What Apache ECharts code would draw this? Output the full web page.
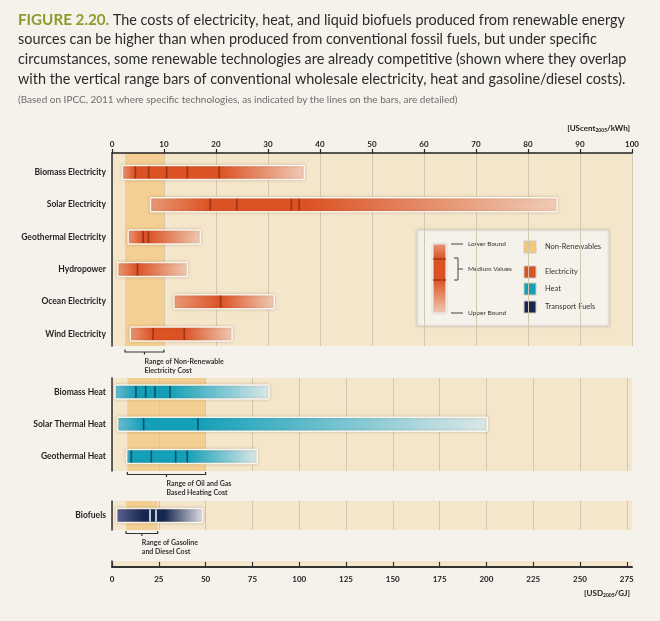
<!DOCTYPE html>
<html><head><meta charset="utf-8">
<script src="https://cdn.jsdelivr.net/npm/echarts@6/dist/echarts.min.js"></script>
<style>html,body{margin:0;padding:0;background:#f4f2ea;}#c{width:660px;height:621px;}</style>
</head><body><div id="c"></div>
<script>
// ---------------- DATA ----------------
// Electricity (UScent2005/kWh)
const elecCategories = ['Biomass Electricity','Solar Electricity','Geothermal Electricity','Hydropower','Ocean Electricity','Wind Electricity'];
const elecLower   = [2.0, 7.4, 3.1, 1.1, 11.9, 3.5];
const elecUpper   = [37.0, 85.6, 17.0, 14.5, 31.2, 23.1];
const elecMedLow  = [4.5, 18.9, 6.0, 4.9, 20.9, 7.9];
const elecMedHigh = [20.6, 37.5, 7.0, 4.9, 20.9, 13.9];
const elecLines   = [[4.5, 7.05, 10.5, 14.5, 20.6], [18.9, 24.0, 34.5, 36.0], [6.0, 7.0], [4.9], [20.9], [7.9, 13.9]];
const elecNonRenewable = [2.5, 10.0];

// Heat (USD2005/GJ)
const heatCategories = ['Biomass Heat','Solar Thermal Heat','Geothermal Heat'];
const heatLower   = [1.6, 3.0, 7.8];
const heatUpper   = [83.9, 200.5, 77.6];
const heatMedLow  = [12.8, 16.9, 10.3];
const heatMedHigh = [31.0, 45.9, 40.2];
const heatLines   = [[12.8, 18.0, 23.0, 31.0], [16.9, 45.9], [10.3, 21.0, 34.0, 40.2]];
const heatNonRenewable = [8.2, 50.0];

// Transport fuels (USD2005/GJ)
const fuelCategories = ['Biofuels'];
const fuelLower   = [2.5];
const fuelUpper   = [48.4];
const fuelMedLow  = [16.7];
const fuelMedHigh = [28.0];
const fuelLines   = [[20.3, 23.5]];
const fuelNonRenewable = [7.5, 24.4];

// Tick labels
const centTicks = [0,10,20,30,40,50,60,70,80,90,100];
const gjTicks = [0,25,50,75,100,125,150,175,200,225,250,275];
const GJ_PER_CENT_KWH = 2.7778; // unit conversion, 1 USc/kWh = 2.7778 USD/GJ

// ---------------- STYLE ----------------
const FONT = 'Lato, "Open Sans", sans-serif';
const TXT = '#231f20';
const PANEL = '#f4e6cb';
const BAND = '#f3cf93';
const GRIDLINE = '#d3c7ad';
const elecPal = {low:'#ea9a78', full:'#dc5224', light:'#f0cdb7'};
const heatPal = {low:'#6dbdd0', full:'#14a0b9', light:'#dde8e8'};
const fuelPal = {low:'#5c6391', full:'#172850', light:'#e3e2e7'};

function makeBarSeries(gi, lower, upper, medLow, medHigh, lines, pal, lineColor) {
  const data = lower.map((v, i) => [i, v, upper[i], medLow[i], medHigh[i]]);
  return {
    type: 'custom', xAxisIndex: gi, yAxisIndex: gi, z: 3, silent: true,
    data, encode: {x: [1, 2, 3, 4], y: 0},
    renderItem(params, api) {
      const i = api.value(0), lo = api.value(1), hi = api.value(2), mL = api.value(3), mH = api.value(4);
      const a = api.coord([lo, i]), b = api.coord([hi, i]);
      const h = 14, y0 = a[1] - h / 2, span = hi - lo;
      const s1 = Math.max(0.001, Math.min(1, (mL - lo) / span));
      const s2 = Math.max(s1, Math.min(0.999, (mH - lo) / span));
      const children = [{
        type: 'rect',
        shape: {x: a[0], y: y0, width: b[0] - a[0], height: h, r: 1},
        style: {
          fill: new echarts.graphic.LinearGradient(0, 0, 1, 0, [
            {offset: 0, color: pal.low}, {offset: s1, color: pal.full},
            {offset: s2, color: pal.full}, {offset: 1, color: pal.light}]),
          stroke: 'rgba(252,248,242,0.95)', lineWidth: 1.5,
          shadowBlur: 3, shadowColor: 'rgba(90,60,20,0.25)'
        }
      }];
      lines[params.dataIndex].forEach(v => {
        const p = api.coord([v, i]);
        children.push({type: 'line', shape: {x1: p[0], y1: y0 + 1, x2: p[0], y2: y0 + h - 1},
          style: {stroke: lineColor, lineWidth: 1.6}});
      });
      return {type: 'group', children};
    }
  };
}

function makeBandSeries(gi, range, label, off) {
  return {
    type: 'custom', xAxisIndex: gi, yAxisIndex: gi, z: -1, clip: false, silent: true,
    data: [range], encode: {x: [0, 1]},
    renderItem(params, api) {
      const cs = params.coordSys;
      const x0 = api.coord([api.value(0), 0])[0], x1 = api.coord([api.value(1), 0])[0];
      const by = cs.y + cs.height + off, mid = (x0 + x1) / 2;
      return {type: 'group', children: [
        {type: 'rect', shape: {x: x0, y: cs.y, width: x1 - x0, height: cs.height}, style: {fill: BAND}},
        {type: 'polyline', shape: {points: [[x0, by - 2.5], [x0, by], [x1, by], [x1, by - 2.5]]},
          style: {stroke: '#333', lineWidth: 1.2, fill: null}},
        {type: 'line', shape: {x1: mid, y1: by, x2: mid, y2: by + 2.5}, style: {stroke: '#333', lineWidth: 1.2}},
        {type: 'text', x: mid, y: by + 5, style: {text: label, fill: '#333', font: 'bold 7px ' + FONT, lineHeight: 9}}
      ]};
    }
  };
}

const catLabel = (cats) => ({
  customValues: cats.map((c, i) => i),
  formatter: v => cats[Math.round(v)] || '',
  fontSize: 8.5, fontWeight: 'bold', color: TXT, fontFamily: FONT, margin: 6
});
const yBase = {type: 'value', inverse: true, axisLine: {show: true, onZero: false, lineStyle: {color: '#333', width: 1.5}},
  axisTick: {show: false}, splitLine: {show: false}};
const hiddenX = {type: 'value', min: 0, max: 100 * GJ_PER_CENT_KWH, interval: 25,
  axisLine: {show: false, onZero: false}, axisTick: {show: false}, axisLabel: {show: false},
  splitLine: {show: true, showMaxLine: false, lineStyle: {color: GRIDLINE, width: 1}}};
const gridBase = {show: true, backgroundColor: PANEL, borderWidth: 0, z: -2, left: 112, width: 520};

const option = {
  backgroundColor: '#f4f2ea',
  animation: false,
  grid: [
    Object.assign({top: 153, height: 193}, gridBase),
    Object.assign({top: 378, height: 93}, gridBase),
    Object.assign({top: 501, height: 29}, gridBase),
    Object.assign({top: 561, height: 6}, gridBase)
  ],
  xAxis: [
    {gridIndex: 0, type: 'value', position: 'top', min: centTicks[0], max: centTicks[centTicks.length - 1], interval: 10,
      axisLine: {onZero: false, lineStyle: {color: '#222', width: 1.5}},
      axisTick: {show: true, inside: false, length: 4, lineStyle: {color: '#222', width: 1.2}},
      axisLabel: {customValues: centTicks, fontSize: 8, fontWeight: 'bold', color: '#222', fontFamily: FONT, margin: 5},
      splitLine: {show: true, lineStyle: {color: GRIDLINE, width: 1}}},
    Object.assign({gridIndex: 1}, hiddenX),
    Object.assign({gridIndex: 2}, hiddenX),
    Object.assign({}, hiddenX, {gridIndex: 3, position: 'bottom',
      axisLine: {show: true, onZero: false, lineStyle: {color: '#333', width: 2}},
      axisTick: {show: true, inside: true, length: 5, customValues: gjTicks, lineStyle: {color: '#333', width: 1.2}},
      axisLabel: {show: true, customValues: gjTicks, fontSize: 8, fontWeight: 'bold', color: '#222', fontFamily: FONT, margin: 8}})
  ],
  yAxis: [
    Object.assign({gridIndex: 0, min: -0.6, max: 5.37, axisLabel: catLabel(elecCategories)}, yBase),
    Object.assign({gridIndex: 1, min: -0.43, max: 2.45, axisLabel: catLabel(heatCategories)}, yBase),
    Object.assign({gridIndex: 2, min: -0.5, max: 0.5, axisLabel: catLabel(fuelCategories)}, yBase),
    Object.assign({gridIndex: 3, min: 0, max: 1, axisLabel: {show: false}}, yBase)
  ],
  series: [
    makeBandSeries(0, elecNonRenewable, 'Range of Non-Renewable\nElectricity Cost', 6),
    makeBandSeries(1, heatNonRenewable, 'Range of Oil and Gas\nBased Heating Cost', 3.5),
    makeBandSeries(2, fuelNonRenewable, 'Range of Gasoline\nand Diesel Cost', 3.5),
    makeBarSeries(0, elecLower, elecUpper, elecMedLow, elecMedHigh, elecLines, elecPal, '#9c3516'),
    makeBarSeries(1, heatLower, heatUpper, heatMedLow, heatMedHigh, heatLines, heatPal, '#0b5463'),
    makeBarSeries(2, fuelLower, fuelUpper, fuelMedLow, fuelMedHigh, fuelLines, fuelPal, '#eef0f2')
  ],
  graphic: []
};

// Title
const titleLines = [
  '{g|FIGURE 2.20.} The costs of electricity, heat, and liquid biofuels produced from renewable energy',
  'sources can be higher than when produced from conventional fossil fuels, but under specific',
  'circumstances, some renewable technologies are already competitive (shown where they overlap',
  'with the vertical range bars of conventional wholesale electricity, heat and gasoline/diesel costs).'
];
titleLines.forEach((t, k) => {
  option.graphic.push({type: 'text', x: 18, y: 20 + k * 19.7, silent: true,
    style: {text: t, fill: '#2b2b2b', font: '14.4px ' + FONT, verticalAlign: 'middle',
      rich: {g: {fill: '#8c9b2c', fontWeight: 'bold', fontSize: 15.2, fontFamily: FONT}}}});
});
option.graphic.push({type: 'text', x: 18, y: 100, silent: true,
  style: {text: '(Based on IPCC, 2011 where specific technologies, as indicated by the lines on the bars, are detailed)',
    fill: '#6d6d6d', font: '10px ' + FONT, verticalAlign: 'middle'}});

// Units
const unitRich = {a: {fontSize: 8, fontWeight: 'bold', fill: '#222', fontFamily: FONT},
  s: {fontSize: 5, fontWeight: 'bold', fill: '#222', fontFamily: FONT, padding: [5, 0, 0, 0]}};
option.graphic.push({type: 'text', x: 630, y: 128, silent: true,
  style: {text: '{a|[UScent}{s|2005}{a|/kWh]}', align: 'right', verticalAlign: 'middle', rich: unitRich}});
option.graphic.push({type: 'text', x: 630, y: 593, silent: true,
  style: {text: '{a|[USD}{s|2005}{a|/GJ]}', align: 'right', verticalAlign: 'middle', rich: unitRich}});

// Legend
const legendItems = [
  {name: 'Non-Renewables', color: '#f4c677', y: 247},
  {name: 'Electricity', color: elecPal.full, y: 272},
  {name: 'Heat', color: heatPal.full, y: 289},
  {name: 'Transport Fuels', color: fuelPal.full, y: 307}
];
const lg = [
  {type: 'rect', shape: {x: 417, y: 230, width: 192, height: 96},
    style: {fill: '#f4f2ea', stroke: '#dad6cc', lineWidth: 1, shadowBlur: 3, shadowColor: 'rgba(0,0,0,0.15)'}},
  {type: 'rect', shape: {x: 433, y: 244, width: 13, height: 69},
    style: {fill: new echarts.graphic.LinearGradient(0, 0, 0, 1, [
      {offset: 0, color: elecPal.low}, {offset: 0.22, color: elecPal.full},
      {offset: 0.52, color: elecPal.full}, {offset: 1, color: elecPal.light}]),
      stroke: 'rgba(252,248,242,0.95)', lineWidth: 1.2, shadowBlur: 2, shadowColor: 'rgba(0,0,0,0.2)'}},
  {type: 'line', shape: {x1: 433, y1: 259, x2: 446, y2: 259}, style: {stroke: '#9c3516', lineWidth: 1.3}},
  {type: 'line', shape: {x1: 433, y1: 280, x2: 446, y2: 280}, style: {stroke: '#9c3516', lineWidth: 1.3}},
  {type: 'line', shape: {x1: 451, y1: 244, x2: 463, y2: 244}, style: {stroke: '#444', lineWidth: 1}},
  {type: 'line', shape: {x1: 451, y1: 313, x2: 463, y2: 313}, style: {stroke: '#444', lineWidth: 1}},
  {type: 'polyline', shape: {points: [[454, 258], [458, 258], [458, 280], [454, 280]]}, style: {stroke: '#444', lineWidth: 1, fill: null}},
  {type: 'line', shape: {x1: 458, y1: 269, x2: 463, y2: 269}, style: {stroke: '#444', lineWidth: 1}},
  {type: 'text', x: 468, y: 244, style: {text: 'Lower Bound', fill: '#333', font: '6.5px ' + FONT, verticalAlign: 'middle'}},
  {type: 'text', x: 468, y: 269, style: {text: 'Medium Values', fill: '#333', font: '6.5px ' + FONT, verticalAlign: 'middle'}},
  {type: 'text', x: 468, y: 313, style: {text: 'Upper Bound', fill: '#333', font: '6.5px ' + FONT, verticalAlign: 'middle'}}
];
legendItems.forEach(it => {
  lg.push({type: 'rect', shape: {x: 524, y: it.y - 6, width: 12, height: 12},
    style: {fill: it.color, stroke: '#cfcac0', lineWidth: 1}});
  lg.push({type: 'text', x: 545, y: it.y, style: {text: it.name, fill: '#333', font: '7.5px ' + FONT, verticalAlign: 'middle'}});
});
option.graphic.push({type: 'group', silent: true, z: 10, children: lg});

const chart = echarts.init(document.getElementById('c'));
chart.setOption(option);
</script>
</body></html>
